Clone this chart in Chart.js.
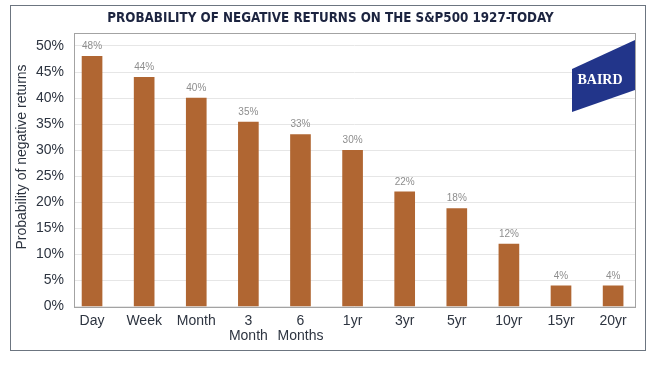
<!DOCTYPE html>
<html>
<head>
<meta charset="utf-8">
<script src="https://cdn.jsdelivr.net/npm/chart.js@4.4.1/dist/chart.umd.min.js"></script>
<style>
  html, body { margin: 0; padding: 0; background: #fff; }
  #wrap { width: 657px; height: 367px; }
</style>
</head>
<body>
<div id="wrap"><canvas id="chart" width="657" height="367"></canvas></div>
<script>
// 기간별 카테고리와 값
const periods = ['Day', 'Week', 'Month', ['3', 'Month'], ['6', 'Months'], '1yr', '3yr', '5yr', '10yr', '15yr', '20yr'];
const negativeShare = [48, 44, 40, 35.4, 33, 30, 22, 18.8, 12, 4, 4];
const shareLabels = ['48%', '44%', '40%', '35%', '33%', '30%', '22%', '18%', '12%', '4%', '4%'];
const yTicks = [0, 5, 10, 15, 20, 25, 30, 35, 40, 45, 50];

const BAR_COLOR = '#B06632';
const TEXT_COLOR = '#2d3440';

// 바깥 테두리 + 플롯 테두리
const framePlugin = {
    id: 'frame',
    beforeDraw: (chart) => {
        const { ctx } = chart;
        ctx.save();
        ctx.strokeStyle = '#6c7580';
        ctx.lineWidth = 1;
        ctx.strokeRect(10.5, 5.5, 635, 345);
        ctx.restore();
    },
    afterDraw: (chart) => {
        const { ctx, chartArea: a } = chart;
        ctx.save();
        ctx.strokeStyle = '#a3a3a3';
        ctx.lineWidth = 1;
        ctx.strokeRect(Math.round(a.left) + 0.5, Math.round(a.top) + 0.5,
            Math.round(a.right - a.left), Math.round(a.bottom - a.top));
        // y축 제목
        ctx.fillStyle = TEXT_COLOR;
        ctx.font = '14px "Liberation Sans", Arial, sans-serif';
        ctx.textAlign = 'center';
        ctx.textBaseline = 'middle';
        ctx.translate(22, 157);
        ctx.rotate(-Math.PI / 2);
        ctx.fillText('Probability of negative returns', 0, 0);
        ctx.restore();
    }
};

// 막대 위 값 라벨
const valueLabelPlugin = {
    id: 'valueLabels',
    afterDatasetsDraw: (chart) => {
        const { ctx } = chart;
        const meta = chart.getDatasetMeta(0);
        ctx.save();
        ctx.fillStyle = '#8e8e8e';
        ctx.font = '10px "Liberation Sans", Arial, sans-serif';
        ctx.textAlign = 'center';
        ctx.textBaseline = 'middle';
        meta.data.forEach((bar, i) => {
            ctx.fillText(shareLabels[i], bar.x, bar.y - 10);
        });
        ctx.restore();
    }
};

// BAIRD 로고 (오른쪽 위)
const logoPlugin = {
    id: 'logo',
    afterDatasetsDraw: (chart) => {
        const { ctx, chartArea: a } = chart;
        const r = a.right;
        ctx.save();
        ctx.fillStyle = '#22358a';
        ctx.beginPath();
        ctx.moveTo(r - 63, a.top + 36);
        ctx.lineTo(r, a.top + 7);
        ctx.lineTo(r, a.top + 57);
        ctx.lineTo(r - 63, a.top + 79);
        ctx.closePath();
        ctx.fill();
        ctx.fillStyle = '#ffffff';
        ctx.font = 'bold 14px "Liberation Serif", serif';
        ctx.textAlign = 'center';
        ctx.textBaseline = 'middle';
        ctx.fillText('BAIRD', r - 35, a.top + 47);
        ctx.restore();
    }
};

new Chart(document.getElementById('chart').getContext('2d'), {
    type: 'bar',
    data: {
        datasets: [{
            data: negativeShare.map((v, i) => ({ x: i, y: v })),
            backgroundColor: BAR_COLOR,
            borderWidth: 0,
            barThickness: 20
        }]
    },
    options: {
        responsive: false,
        animation: false,
        layout: { padding: { left: 26, right: 22, top: 0, bottom: 17 } },
        scales: {
            x: {
                type: 'linear',
                offset: false,
                min: -0.346,
                max: 10.42,
                grid: { display: false, drawTicks: false },
                border: { display: false },
                afterBuildTicks: (axis) => { axis.ticks = periods.map((p, i) => ({ value: i })); },
                ticks: {
                    autoSkip: false,
                    maxRotation: 0,
                    padding: 7,
                    color: TEXT_COLOR,
                    font: { family: '"Liberation Sans", Arial, sans-serif', size: 14, lineHeight: 1.05 },
                    callback: (v) => periods[v]
                }
            },
            y: {
                min: 0,
                max: 52.5,
                grid: { color: '#e6e6e6', drawTicks: false },
                border: { display: false },
                afterBuildTicks: (axis) => { axis.ticks = yTicks.map(v => ({ value: v })); },
                ticks: {
                    padding: 10,
                    color: TEXT_COLOR,
                    font: { family: '"Liberation Sans", Arial, sans-serif', size: 14 },
                    callback: (v) => v + '%'
                }
            }
        },
        plugins: {
            legend: { display: false },
            tooltip: { enabled: false },
            title: {
                display: true,
                text: 'PROBABILITY OF NEGATIVE RETURNS ON THE S&P500 1927-TODAY',
                color: '#1c2440',
                font: { family: '"DejaVu Sans Condensed", Arial, sans-serif', size: 13.3, weight: 'bold' },
                padding: { top: 11, bottom: 6 }
            }
        }
    },
    plugins: [framePlugin, valueLabelPlugin, logoPlugin]
});
</script>
</body>
</html>
